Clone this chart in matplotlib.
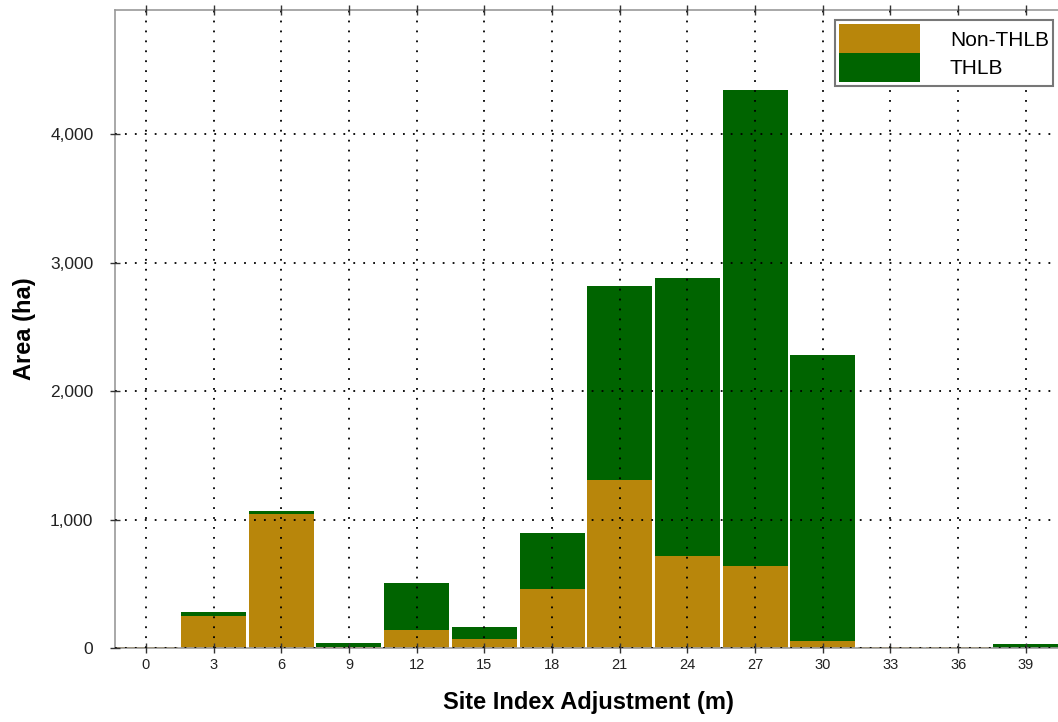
import matplotlib.pyplot as plt
from matplotlib.ticker import FuncFormatter

plt.rcParams['font.family'] = ['Liberation Sans', 'DejaVu Sans']

site_index = [0, 3, 6, 9, 12, 15, 18, 21, 24, 27, 30, 33, 36, 39]
non_thlb = [5, 250, 1040, 10, 142, 68, 459, 1307, 714, 638, 52, 5, 5, 3]
thlb = [3, 30, 25, 31, 361, 93, 434, 1510, 2165, 3704, 2228, 3, 3, 28]

fig = plt.figure(figsize=(10.58, 7.22), dpi=100)
ax = fig.add_axes([0.1087, 0.1025, 0.895, 0.8835])

ax.bar(site_index, non_thlb, width=2.88, color='#B8860B', edgecolor='none',
       label='Non-THLB', zorder=1)
ax.bar(site_index, thlb, width=2.88, bottom=non_thlb, color='#006400',
       edgecolor='none', label='THLB', zorder=1)

ax.set_xlim(-1.37, 40.6)
ax.set_ylim(0, 4965)
ax.set_xticks(site_index)
ax.set_yticks([0, 1000, 2000, 3000, 4000])
ax.yaxis.set_major_formatter(FuncFormatter(lambda v, p: f'{int(v):,}'))

# dotted grid sits over the bars
ax.set_axisbelow(False)
ax.grid(True, color='black', linestyle=(0, (1, 4.5)), linewidth=1.3, zorder=3)
ax.tick_params(direction='inout', length=7, width=1, colors='#333333',
               labelcolor='#222222', top=True)
ax.tick_params(axis='x', labelsize=10.5)
ax.tick_params(axis='y', labelsize=12.5, pad=12)
for side in ['left', 'top', 'bottom']:
    ax.spines[side].set_color('#999999')
    ax.spines[side].set_linewidth(1.2)
ax.spines['right'].set_visible(False)

ax.set_xlabel('Site Index Adjustment (m)', fontsize=17, fontweight='bold',
              labelpad=14)
ax.set_ylabel('Area (ha)', fontsize=17, fontweight='bold', labelpad=10)

leg = ax.legend(loc='upper right', bbox_to_anchor=(0.9905, 0.984),
                handlelength=3.85, handleheight=1.75, handletextpad=1.45,
                labelspacing=0.0, borderpad=0.2, fontsize=15,
                fancybox=False, framealpha=1, borderaxespad=0)
leg.get_frame().set_edgecolor('#777777')
leg.get_frame().set_linewidth(1.5)
leg.set_zorder(5)

fig.savefig('out.png', dpi=100)
